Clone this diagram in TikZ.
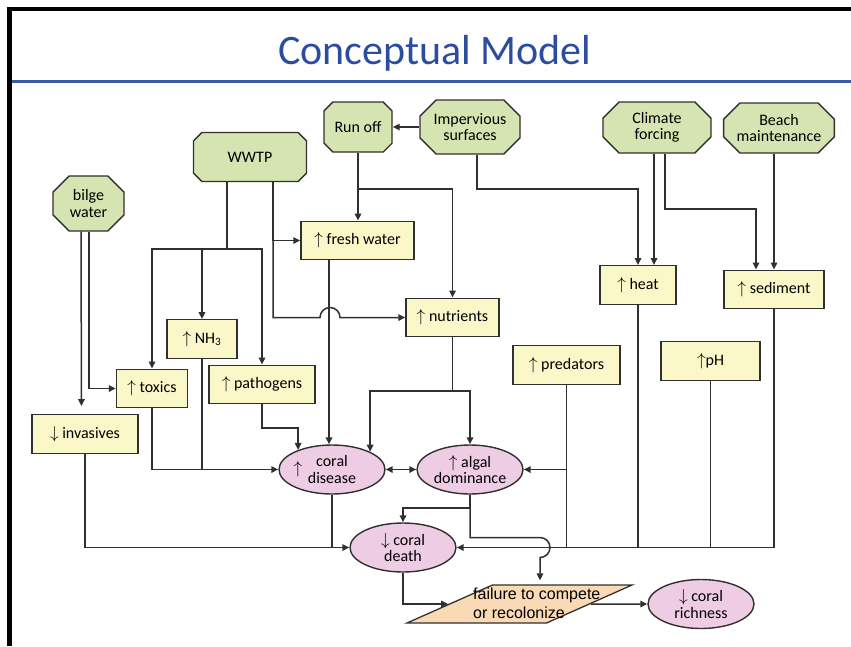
\documentclass[tikz,border=0pt]{standalone}
\usepackage{fontspec}
\setmainfont{Carlito}
\newfontfamily\failfont{Liberation Sans}
\usetikzlibrary{shapes.geometric,shapes.misc,arrows.meta}
\definecolor{linec}{HTML}{303030}
\definecolor{octfill}{HTML}{D6E4B2}
\definecolor{boxfill}{HTML}{FAF8C8}
\definecolor{ovalfill}{HTML}{EECDE4}
\definecolor{parafill}{HTML}{FADAB4}
\definecolor{titleblue}{HTML}{2B4C9F}
\definecolor{ruleblue}{HTML}{3C5AAA}
\begin{document}
\begin{tikzpicture}[x=1pt,y=-1pt,
  font=\fontsize{16}{16.5}\selectfont,
  >={Triangle[length=7pt,width=6.5pt]},
  octa/.style={chamfered rectangle, chamfered rectangle xsep=13pt, draw=linec, line width=1.4pt, fill=octfill, inner sep=0pt, align=center},
  box/.style={rectangle, draw=linec, line width=1.4pt, fill=boxfill, inner sep=0pt, minimum height=38.5pt},
  oval/.style={ellipse, draw=linec, line width=1.4pt, fill=ovalfill, inner sep=0pt, minimum width=106pt, minimum height=49pt, align=center},
  conn/.style={draw=linec, line width=1.5pt},
  thk/.style={draw=linec, line width=2.2pt}]
\useasboundingbox (0,0) rectangle (851,646);
% frame and title
\draw[line width=4.5pt, line join=miter] (9.5,646) -- (9.5,9) -- (851,9);
\draw[ruleblue, line width=3pt] (12,81.5) -- (851,81.5);
\node[anchor=base, text=titleblue, font=\fontsize{42}{46}\selectfont, inner sep=0pt] (title) at (435,64) {Conceptual Model};
% sources
\node[octa, minimum width=68pt, minimum height=50pt] (runoff) at (358,127) {Run off};
\node[octa, minimum width=100pt, minimum height=54pt] (imperv) at (470,127) {Impervious\\surfaces};
\node[octa, minimum width=113pt, minimum height=49pt] (wwtp) at (250,157) {WWTP};
\node[octa, minimum width=71pt, minimum height=55pt] (bilge) at (88.5,203.5) {bilge\\water};
\node[octa, minimum width=108pt, minimum height=51pt] (climate) at (657,127.5) {Climate\\forcing};
\node[octa, minimum width=100pt, minimum height=50pt] (beach) at (779,128) {Beach\\maintenance};
% stressors
\node[box, minimum width=113pt] (fresh) at (357.5,240.5) {$\uparrow$ fresh water};
\node[box, minimum width=70pt] (nh3) at (202,339) {$\uparrow$ NH\textsubscript{3}};
\node[box, minimum width=71pt] (toxics) at (152,388.5) {$\uparrow$ toxics};
\node[box, minimum width=106pt] (pathogens) at (262,384.5) {$\uparrow$ pathogens};
\node[box, minimum width=106pt] (invasives) at (85,434) {$\downarrow$ invasives};
\node[box, minimum width=93pt] (nutrients) at (452.5,317.5) {$\uparrow$ nutrients};
\node[box, minimum width=76pt] (heat) at (638,285) {$\uparrow$ heat};
\node[box, minimum width=100pt] (sediment) at (774,289.5) {$\uparrow$ sediment};
\node[box, minimum width=107pt] (predators) at (566.5,365) {$\uparrow$ predators};
\node[box, minimum width=99pt] (ph) at (710.5,361) {$\uparrow$pH};
% responses
\node[oval] (disease) at (332,469.5) {\makebox[0pt][r]{\smash{\raisebox{-7pt}{$\uparrow$}}\hspace{14pt}}coral\\disease};
\node[oval] (algal) at (470,469.5) {$\uparrow$ algal\\dominance};
\node[oval] (death) at (403,547.5) {$\downarrow$ coral\\death};
\node[oval] (richness) at (701,604) {$\downarrow$ coral\\richness};
\node[trapezium, trapezium left angle=34, trapezium right angle=146, trapezium stretches=true, minimum width=225pt, minimum height=38pt, draw=linec, fill=parafill, line width=1.3pt, inner sep=2pt] (failure) at (519.5,604) {\phantom{x}};
\node[anchor=west, align=left, inner sep=0pt, font=\failfont\fontsize{16}{19}\selectfont] (failtext) at (473,603) {failure to compete\\or recolonize};
% junction levels
\coordinate (jr) at (0,189);
\coordinate (jc) at (0,209);
\coordinate (jw) at (0,249);
\coordinate (jp) at (0,428);
\coordinate (jn) at (0,391);
\coordinate (ja) at (0,508);
\coordinate (hopA) at (320,317.5);
\coordinate (jf) at (540,537.5);
% connectors
\draw[conn,->] (imperv.west) -- (runoff.east);
\draw[thk,->] (runoff.south) -- (fresh.north -| runoff.south);
\draw[thk] (runoff.south |- jr) -- (nutrients.north |- jr);
\draw[conn,->] (nutrients.north |- jr) -- (nutrients.north);
\draw[conn,->] ([xshift=7pt]imperv.south) -- ([xshift=7pt]imperv.south |- jr) -| (heat.north);
\draw[conn,->] ([xshift=-3pt]climate.south) -- ([xshift=16pt]heat.north);
\draw[conn,->] ([xshift=8pt]climate.south) -- ([xshift=8pt]climate.south |- jc) -| ([xshift=-18pt]sediment.north);
\draw[conn,->] ([xshift=-5pt]beach.south) -- (sediment.north);
\draw[thk] ([xshift=-23pt]wwtp.south) -- ([xshift=-23pt]wwtp.south |- jw) -- (nh3.north |- jw);
\draw[thk,->] (nh3.north |- jw) -- (nh3.north);
\draw[conn,->] (nh3.north |- jw) -| (toxics.north);
\draw[conn,->] (nh3.north |- jw) -| (pathogens.north);
\draw[conn,->] ([xshift=23pt]wwtp.south) |- (fresh.west);
\draw[conn,->] ([xshift=23pt]wwtp.south) |- (hopA) arc[start angle=180,end angle=0,radius=10pt] -- (nutrients.west);
\draw[conn,->,shorten >=8pt] ([xshift=-7.5pt]bilge.south) -- ([xshift=-3.5pt]invasives.north);
\draw[conn,->] ([xshift=0.5pt]bilge.south) |- (toxics.west);
\draw[conn,->] (toxics.south) |- (disease.west);
\draw[conn] (nh3.south) -- (nh3.south |- disease.west);
\draw[conn,->] (pathogens.south) -- (pathogens.south |- jp) -| (disease.150);
\draw[thk,->] ([xshift=-28.5pt]fresh.south) -- ([xshift=-3pt]disease.north);
\draw[conn,->] (nutrients.south) -- (nutrients.south |- jn) -| (disease.25);
\draw[conn,->] (nutrients.south |- jn) -| (algal.north);
\draw[conn,<->] (disease.east) -- (algal.west);
\draw[conn,->] (predators.south) |- (algal.east);
\draw[conn,->] (sediment.south) |- (death.east);
\draw[conn] (predators.south) -- (predators.south |- death.east);
\draw[conn] (heat.south) -- (heat.south |- death.east);
\draw[conn] (ph.south) -- (ph.south |- death.east);
\draw[conn,->] (invasives.south) |- (death.west);
\draw[conn] (disease.south) -- (disease.south |- death.west);
\draw[conn,->] (algal.south) -- (algal.south |- ja) -| (death.north);
\draw[conn,->,shorten >=4pt] (algal.south) |- (jf) arc[start angle=90,end angle=-90,radius=10pt] -- (failure.north -| jf);
\draw[conn,->] (death.south) |- (failure.west);
\draw[conn,->] (failure.east) -- (richness.west);
\end{tikzpicture}
\end{document}
